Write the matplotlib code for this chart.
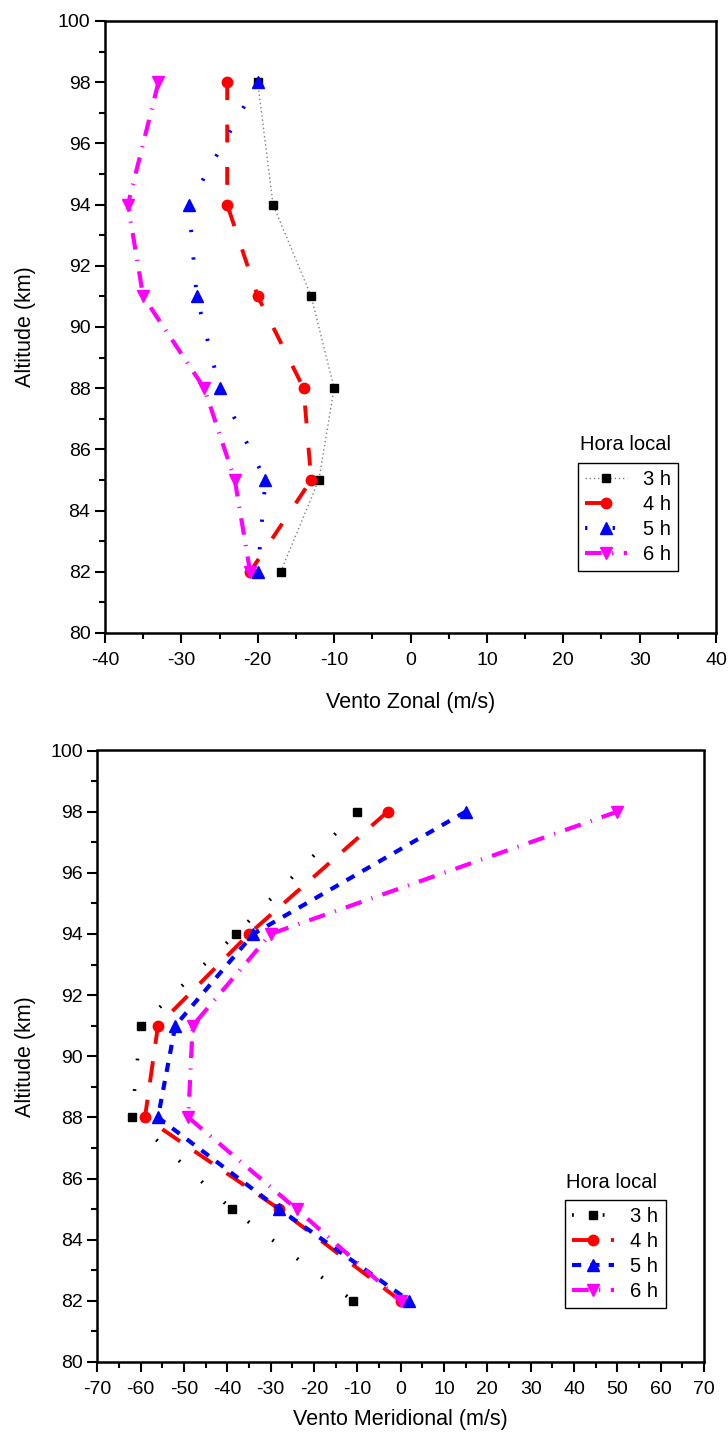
import matplotlib
matplotlib.use("Agg")
import matplotlib.pyplot as plt
from matplotlib.ticker import MultipleLocator

plt.rcParams['font.family'] = ['Liberation Sans', 'DejaVu Sans']
plt.rcParams['axes.unicode_minus'] = False

altitude = [98, 94, 91, 88, 85, 82]
hours = ['3 h', '4 h', '5 h', '6 h']

# vento zonal (m/s)
zonal_3h = [-20, -18, -13, -10, -12, -17]
zonal_4h = [-24, -24, -20, -14, -13, -21]
zonal_5h = [-20, -29, -28, -25, -19, -20]
zonal_6h = [-33, -37, -35, -27, -23, -21]

# vento meridional (m/s)
merid_3h = [-10, -38, -60, -62, -39, -11]
merid_4h = [-3, -35, -56, -59, -28, 0]
merid_5h = [15, -34, -52, -56, -28, 2]
merid_6h = [50, -30, -48, -49, -24, 0]

markers = ['s', 'o', '^', 'v']
msizes = [6, 7.5, 8, 8]
line_colors_top = ['#808080', 'red', 'blue', 'magenta']
line_colors_bot = ['black', 'red', 'blue', 'magenta']
mark_colors = ['black', 'red', 'blue', 'magenta']
styles_top = [(0, (1, 2)), (0, (4.6, 6.3)), (0, (0.6, 6.5)), (0, (4, 2.5, 0.3, 2.5))]
widths_top = [1.0, 2.8, 2.8, 3.0]
styles_bot = [(0, (0.5, 8)), (0, (5.5, 4.5)), (0, (2.2, 2.2)), (0, (4, 2.5, 0.3, 2.5))]
widths_bot = [2.6, 2.8, 3.0, 3.0]

fig = plt.figure(figsize=(7.28, 14.43), dpi=100)


def panel(rect, series, xlim, xstep, xlabel, colors, styles, widths,
          leg_xy, title_xy, ylab_x, xlab_y):
    ax = fig.add_axes(rect)
    for vals, lab, mk, ms, c, mc, ls, lw in zip(series, hours, markers, msizes,
                                               colors, mark_colors, styles, widths):
        ax.plot(vals, altitude, color=c, linestyle=ls, linewidth=lw, marker=mk,
                markersize=ms, markerfacecolor=mc, markeredgecolor=mc, label=lab)
    ax.set_xlim(*xlim)
    ax.set_ylim(80, 100)
    ax.xaxis.set_major_locator(MultipleLocator(xstep))
    ax.xaxis.set_minor_locator(MultipleLocator(xstep / 2))
    ax.yaxis.set_major_locator(MultipleLocator(2))
    ax.yaxis.set_minor_locator(MultipleLocator(1))
    ax.tick_params(which='both', direction='out', width=1.5, labelsize=14,
                   top=False, right=False)
    ax.tick_params(which='major', length=7)
    ax.tick_params(which='minor', length=4)
    ax.tick_params(axis='x', which='major', pad=7)
    for s in ax.spines.values():
        s.set_linewidth(1.8)
    ax.set_xlabel(xlabel, fontsize=15.5)
    ax.set_ylabel('Altitude (km)', fontsize=15.5)
    ax.xaxis.set_label_coords(0.5, xlab_y)
    ax.yaxis.set_label_coords(ylab_x, 0.5)
    leg = ax.legend(loc='upper left', bbox_to_anchor=leg_xy,
                    bbox_transform=fig.transFigure, fontsize=14.5,
                    handlelength=2.1, handletextpad=0.8, labelspacing=0.3,
                    borderpad=0.35, borderaxespad=0, fancybox=False,
                    framealpha=1, edgecolor='black', numpoints=1)
    leg.get_frame().set_linewidth(1.0)
    fig.text(title_xy[0], title_xy[1], 'Hora local', fontsize=14.5, va='center')
    return ax


panel([105 / 728, 1 - 633 / 1443, 611 / 728, 612 / 1443],
      [zonal_3h, zonal_4h, zonal_5h, zonal_6h], (-40, 40), 10,
      'Vento Zonal (m/s)', line_colors_top, styles_top, widths_top,
      (577.7 / 728, 1 - 463 / 1443), (580 / 728, 1 - 445 / 1443),
      -0.113, -0.096)

panel([97.3 / 728, 1 - 1362 / 1443, 606.7 / 728, 611.5 / 1443],
      [merid_3h, merid_4h, merid_5h, merid_6h], (-70, 70), 10,
      'Vento Meridional (m/s)', line_colors_bot, styles_bot, widths_bot,
      (565 / 728, 1 - 1200 / 1443), (566 / 728, 1 - 1183 / 1443),
      -0.101, -0.077)

fig.savefig('out.png', dpi=100)
